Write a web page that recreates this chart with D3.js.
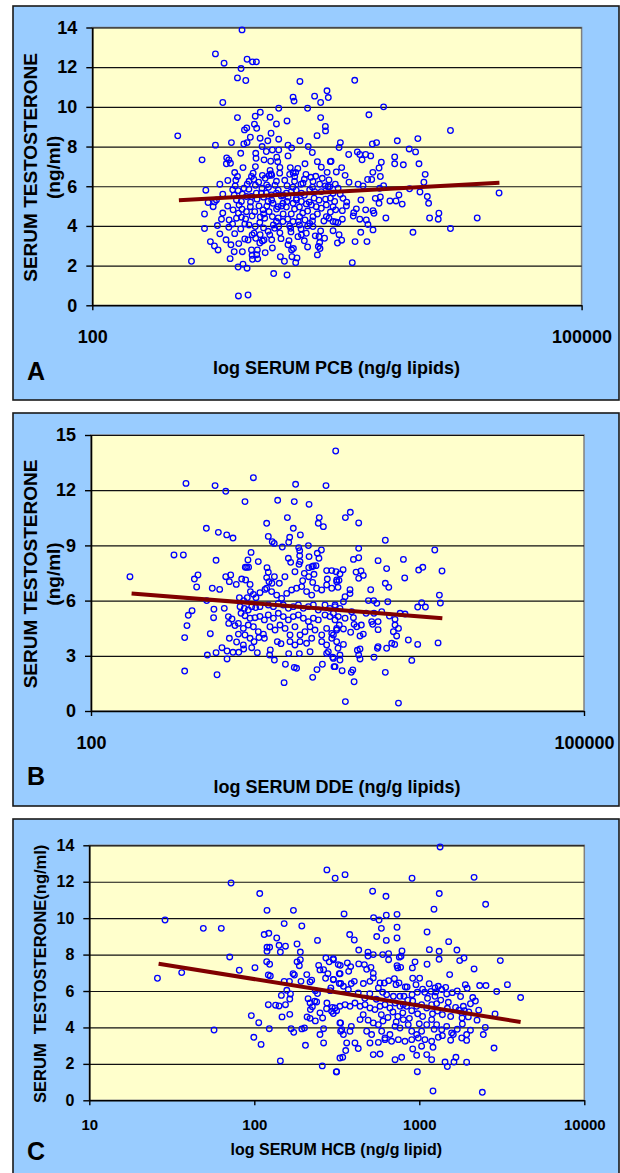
<!DOCTYPE html>
<html><head><meta charset="utf-8">
<script src="https://cdn.jsdelivr.net/npm/d3@7"></script>
<style>
body{margin:0;background:#fff}
svg{display:block}
text{font-family:"Liberation Sans",Arial,sans-serif;font-weight:bold;fill:#000}
</style>
</head><body>
<svg id="chart" width="620" height="1173"></svg>
<script>
// ---- DATA (x values are log10 of serum concentration, y = testosterone ng/ml) ----
const pcbPoints = [
[2.918,13.88],[2.755,12.67],[2.808,12.2],[2.949,12.4],[2.982,12.27],[3.006,12.27],[2.912,11.93],[2.89,11.46],[2.941,11.33],[3.273,11.28],[2.8,10.22],[3.231,10.49],[3.237,10.29],[3.363,10.54],[3.4,10.22],[3.439,10.81],[3.447,10.47],[3.32,9.93],[3.4,9.46],[3.429,9.01],[3.378,8.55],[3.43,8.79],[2.524,8.54],[2.89,9.46],[3.03,9.73],[2.999,9.53],[3.143,9.93],[3.09,9.48],[3.129,9.14],[3.194,9.29],[2.947,8.94],[2.933,8.84],[2.994,9.13],[3.008,8.92],[2.969,8.47],[3.096,8.67],[2.853,8.2],[2.755,8.07],[2.929,8.13],[2.949,8.2],[3.029,8.42],[3.076,8.29],[3.143,8.37],[3.273,8.29],[3.324,8.0],[3.349,7.7],[2.673,7.33],[2.824,7.43],[2.837,7.33],[2.847,7.16],[2.822,7.13],[2.91,7.66],[3.041,8.0],[3.104,7.83],[3.143,7.83],[3.2,8.07],[3.222,7.93],[3.002,7.66],[3.067,7.75],[3.004,7.41],[3.053,7.33],[3.131,7.46],[2.924,6.94],[3.0,6.99],[3.094,7.26],[3.137,7.24],[3.2,7.53],[3.304,7.13],[3.38,7.24],[3.459,7.24],[3.404,6.96],[3.214,6.94],[3.247,6.69],[3.232,6.66],[3.241,6.49],[3.149,6.66],[3.096,6.62],[3.043,6.55],[3.084,6.54],[2.986,6.66],[2.976,6.49],[2.873,6.69],[2.89,6.49],[2.831,6.29],[2.782,6.1],[2.961,6.25],[3.069,6.07],[3.129,6.25],[3.194,6.03],[3.292,6.15],[3.353,6.24],[3.394,6.1],[3.429,6.02],[3.451,6.32],[3.455,5.98],[2.876,6.02],[2.861,5.82],[2.894,5.78],[2.696,5.8],[2.71,5.18],[2.749,5.21],[2.761,5.31],[2.741,4.97],[2.688,4.6],[2.688,3.87],[2.724,3.21],[2.749,2.99],[2.771,2.79],[2.608,2.22],[2.845,2.35],[2.894,1.93],[2.924,2.07],[2.949,1.87],[2.982,2.32],[2.896,0.47],[2.955,0.52],[3.112,1.6],[3.194,1.53],[3.153,2.45],[3.178,2.22],[3.224,2.45],[3.255,2.39],[3.247,2.15],[3.38,2.54],[3.396,2.86],[3.32,2.94],[3.222,2.79],[3.233,2.86],[3.157,3.36],[3.206,3.26],[3.104,2.89],[3.043,3.24],[3.027,3.14],[3.012,2.79],[2.976,2.79],[2.98,2.52],[3.008,2.55],[3.014,2.34],[2.898,3.11],[2.873,3.61],[2.837,3.93],[2.792,4.34],[2.767,4.02],[2.782,3.6],[2.839,4.3],[2.935,3.34],[2.955,3.29],[2.992,3.63],[3.002,3.38],[3.029,3.56],[3.053,3.29],[3.078,3.73],[3.088,3.55],[3.118,3.88],[3.143,3.97],[3.216,3.88],[3.218,3.7],[3.261,3.46],[3.282,3.55],[3.353,3.97],[3.367,3.5],[3.39,3.46],[3.424,3.38],[3.312,3.63],[3.394,3.16],[3.386,2.96],[3.476,3.76],[3.476,4.22],[3.506,4.17],[3.435,4.47],[3.451,4.39],[3.353,4.47],[3.333,4.13],[3.304,4.3],[3.271,4.47],[3.263,4.22],[3.231,4.22],[3.198,4.34],[3.169,4.22],[3.129,4.22],[3.104,4.47],[3.084,4.72],[3.057,4.39],[3.027,4.17],[2.999,3.97],[2.961,4.05],[2.935,4.1],[2.914,4.44],[2.884,4.39],[2.863,4.81],[2.896,4.64],[2.918,4.84],[2.945,4.72],[2.969,4.97],[2.996,4.72],[3.022,5.01],[3.047,4.81],[3.078,5.23],[3.108,5.14],[3.139,4.97],[3.169,5.14],[3.194,5.23],[3.231,5.14],[3.251,5.31],[3.282,5.23],[3.312,5.11],[3.343,5.06],[3.373,4.97],[3.404,4.89],[3.435,5.06],[3.476,4.97],[3.492,4.81],[2.884,5.31],[2.914,5.23],[2.945,5.48],[2.976,5.48],[3.006,5.65],[3.037,5.65],[3.067,5.65],[3.098,5.56],[3.129,5.65],[3.159,5.51],[3.19,5.65],[3.22,5.73],[3.251,5.39],[3.282,5.65],[3.333,5.82],[3.363,5.73],[3.404,5.73],[3.445,5.98],[3.476,5.65],
[3.609,11.34],[3.786,10.0],[3.696,9.6],[4.196,8.81],[3.996,8.4],[3.87,8.29],[3.521,8.2],[3.513,7.95],[3.717,8.13],[3.743,8.2],[3.943,7.88],[3.982,7.73],[3.572,7.6],[3.625,7.73],[3.64,7.6],[3.676,7.6],[3.707,7.53],[3.654,7.33],[3.854,7.48],[3.854,7.13],[3.907,7.08],[4.003,7.13],[3.772,7.21],[3.758,6.92],[3.464,7.26],[3.529,6.94],[3.496,6.72],[3.55,6.55],[3.766,6.49],[4.041,6.6],[3.574,6.2],[3.688,6.34],[3.713,6.34],[4.033,6.2],[3.66,6.02],[3.507,5.9],[3.786,6.03],[3.945,5.87],[4.009,5.71],[3.762,5.9],[3.88,5.56],[4.054,5.48],[4.062,5.14],[4.494,5.66],[3.735,5.39],[3.766,5.46],[3.758,5.14],[3.825,5.26],[3.862,5.26],[3.647,5.31],[3.537,5.39],[3.486,5.23],[3.558,5.01],[3.533,4.77],[3.603,4.67],[3.619,4.86],[3.676,4.81],[3.721,4.77],[3.727,4.64],[3.64,4.34],[3.533,4.34],[3.492,4.2],[4.125,4.64],[4.121,4.34],[4.068,4.4],[4.36,4.4],[4.196,3.87],[3.69,4.07],[3.721,3.8],[3.646,3.68],[3.966,3.68],[3.513,3.56],[3.529,3.28],[3.503,3.14],[3.611,3.21],[3.684,3.21],[3.594,2.15],
[2.87,5.55],[2.9,5.05],[2.93,5.9],[2.95,6.1],[2.97,5.2],[2.99,6.35],[3.01,5.35],[3.02,6.2],[3.04,5.9],[3.05,4.6],[3.06,6.4],[3.07,5.0],[3.08,5.95],[3.09,6.8],[3.1,5.3],[3.11,4.05],[3.12,6.05],[3.13,4.85],[3.14,5.8],[3.15,6.95],[3.16,5.0],[3.17,4.6],[3.18,6.3],[3.19,4.95],[3.2,5.45],[3.21,6.6],[3.22,4.6],[3.23,5.95],[3.24,4.85],[3.25,5.8],[3.26,6.9],[3.27,4.95],[3.28,6.1],[3.29,4.65],[3.3,5.55],[3.31,6.6],[3.32,4.75],[3.33,5.2],[3.34,6.45],[3.35,4.25],[3.36,5.4],[3.37,6.5],[3.38,4.6],[3.39,5.3],[3.41,6.4],[3.42,4.25],[3.43,5.35],[3.44,6.7],[3.46,4.7],[2.92,5.6],[2.94,4.35],[2.96,5.85],[2.98,4.5],[3.0,6.05],[3.03,4.45],[3.05,5.45],[3.1,6.55],[3.14,4.4],[3.17,5.55],[3.21,4.0],[3.24,6.25],[3.27,4.05],[3.3,6.35],[3.32,4.0],[3.35,5.95],[3.28,3.85],[3.15,3.65],[3.05,3.9],[2.98,3.55],[2.91,3.85],[2.88,6.3],[2.86,4.1],[2.83,5.0],[2.8,5.6],[2.8,4.65],[2.82,3.3],[2.85,3.05],[2.87,2.7],[2.92,2.7],[3.06,2.65],[3.1,3.3],[3.2,3.05],[3.3,3.25],[3.4,3.75],[3.46,5.4],[3.49,6.1],[3.52,5.6],[3.56,5.2],[3.6,4.5],[3.63,6.1],[3.68,4.3],[3.72,6.7],[3.8,4.4],[3.9,5.1]
];
const ddePoints = [
[2.237,7.3],[2.578,12.37],[2.755,12.25],[2.82,11.94],[2.988,12.68],[2.937,11.38],[3.136,11.45],[3.237,11.38],[3.245,12.32],[3.43,12.25],[3.489,14.13],[3.327,11.23],[3.195,10.51],[3.389,10.51],[3.383,10.2],[3.414,10.02],[3.069,10.2],[3.231,9.93],[2.702,9.93],[2.775,9.71],[2.826,9.57],[2.864,9.4],[3.079,9.49],[3.209,9.44],[3.274,9.57],[3.103,9.2],[3.115,9.11],[3.164,8.91],[3.203,9.17],[3.264,8.88],[3.27,8.71],[3.27,8.44],[3.272,8.12],[3.266,7.97],[3.323,8.99],[3.377,8.57],[3.387,8.3],[3.402,8.75],[3.327,8.39],[2.505,8.48],[2.562,8.48],[2.761,8.19],[2.974,8.62],[2.955,8.21],[2.947,7.81],[2.939,7.81],[2.959,7.81],[3.018,8.12],[3.201,8.3],[3.215,8.08],[3.241,7.57],[3.325,7.79],[3.345,7.84],[3.353,7.88],[3.369,7.9],[3.298,7.48],[3.288,7.08],[3.325,7.3],[3.357,7.43],[3.349,6.99],[2.651,7.39],[2.629,7.17],[2.643,6.74],[2.82,7.3],[2.85,7.39],[2.842,7.03],[2.884,6.88],[2.917,7.17],[2.941,7.12],[2.968,6.88],[3.071,7.79],[3.079,7.54],[3.069,7.25],[3.083,7.03],[3.116,7.3],[3.146,6.94],[3.101,6.94],[3.18,7.3],[2.738,6.67],[2.783,6.61],[2.704,6.0],[2.748,5.53],[2.746,5.07],[2.615,5.45],[2.592,5.2],[2.584,4.64],[2.57,3.99],[2.57,2.17],[2.726,4.2],[2.708,3.04],[2.761,3.17],[2.767,1.97],[2.811,5.58],[2.836,5.13],[2.838,4.76],[2.858,5.0],[2.876,4.64],[2.797,3.44],[2.828,3.26],[2.828,2.83],[2.864,3.19],[2.899,3.19],[2.929,3.37],[2.886,3.75],[2.842,3.95],[2.903,6.16],[2.929,6.0],[2.951,6.16],[2.97,6.49],[2.988,6.34],[3.004,6.16],[3.028,6.43],[3.059,6.61],[2.907,5.67],[2.933,5.58],[2.957,5.49],[2.978,5.67],[3.002,5.62],[3.028,5.67],[2.913,5.31],[2.937,5.18],[2.968,5.04],[2.998,5.07],[3.028,5.14],[3.055,4.95],[2.897,4.76],[2.927,4.49],[2.957,4.67],[2.988,4.58],[3.018,4.31],[3.049,4.17],[2.897,4.18],[2.937,4.13],[2.968,3.95],[2.992,3.77],[3.022,3.99],[3.055,3.95],[2.927,3.59],[2.978,3.44],[3.012,3.17],[3.087,3.04],[3.116,2.77],[3.091,3.32],[3.183,2.54],[3.175,1.54],[3.237,2.37],[3.251,2.32],[3.349,1.83],[3.375,2.25],[3.408,2.54],[3.333,3.22],[3.268,3.12],[3.203,3.12],[3.156,3.66],[3.134,3.77],[3.069,6.67],[3.099,6.49],[3.13,6.3],[3.16,6.12],[3.191,6.39],[3.221,6.58],[3.251,6.67],[3.282,6.76],[3.312,6.49],[3.343,6.3],[3.373,6.67],[3.404,6.58],[3.434,6.85],[3.465,6.67],[3.495,7.03],[3.434,7.63],[3.465,7.63],[3.491,7.57],[3.438,7.17],[3.495,7.12],[3.079,5.76],[3.11,5.67],[3.14,5.85],[3.17,5.76],[3.201,5.58],[3.231,5.67],[3.262,5.76],[3.292,5.58],[3.323,5.67],[3.353,5.76],[3.383,5.49],[3.424,5.76],[3.454,5.58],[3.485,5.67],[3.079,5.22],[3.11,5.04],[3.14,5.31],[3.17,5.13],[3.201,4.95],[3.231,5.13],[3.262,5.22],[3.292,5.04],[3.323,4.86],[3.353,5.04],[3.383,4.95],[3.424,5.22],[3.454,5.13],[3.485,4.95],[3.089,4.58],[3.12,4.4],[3.15,4.67],[3.181,4.49],[3.211,4.13],[3.241,4.58],[3.272,4.13],[3.302,4.31],[3.333,4.58],[3.363,4.4],[3.404,4.13],[3.434,4.49],[3.465,4.22],[3.495,4.4],[3.211,3.77],[3.241,3.59],[3.272,3.77],[3.312,3.68],[3.343,3.95],[3.404,3.77],[3.434,3.59],[3.465,3.95],[3.495,3.77],[3.444,3.22],[3.475,2.86],[3.485,2.41],[3.434,3.13],
[3.548,10.51],[3.578,10.8],[3.629,10.22],[3.791,9.28],[4.092,8.75],[3.629,8.84],[3.597,8.24],[3.629,8.33],[3.747,8.17],[3.901,8.24],[3.994,7.66],[4.019,7.81],[4.136,7.61],[3.799,7.74],[3.909,7.23],[3.613,7.55],[3.643,7.61],[3.657,7.37],[3.629,7.21],[3.534,7.68],[3.515,7.45],[3.509,7.1],[3.503,6.72],[3.791,6.94],[3.812,6.72],[3.702,6.59],[3.576,6.59],[3.576,6.38],[3.546,6.21],[4.12,6.3],[4.126,5.87],[3.806,5.94],[3.688,6.0],[3.72,6.0],[3.739,5.85],[4.012,5.89],[3.988,5.65],[4.035,5.65],[3.881,5.31],[3.911,5.27],[3.769,5.4],[3.816,5.16],[3.674,5.31],[3.722,5.31],[3.586,5.4],[3.597,5.07],[3.536,5.94],[3.515,5.58],[3.485,5.76],[3.546,5.04],[3.505,5.13],[3.475,5.31],[3.85,4.98],[3.85,4.67],[3.871,4.49],[3.86,4.08],[3.84,4.31],[3.747,4.86],[3.747,4.42],[3.714,4.71],[3.708,4.86],[3.645,4.67],[3.657,4.18],[3.637,4.08],[3.617,4.58],[3.58,4.28],[3.601,4.71],[3.536,4.46],[3.495,4.49],[3.475,4.13],[3.511,4.67],[3.931,3.86],[3.988,3.62],[4.112,3.7],[3.83,3.68],[3.848,3.62],[3.799,3.41],[3.747,3.5],[3.743,3.41],[3.722,2.92],[3.621,3.3],[3.629,3.04],[3.637,2.83],[3.637,3.37],[3.536,3.62],[3.503,3.41],[3.515,3.04],[3.515,2.77],[3.471,2.92],[3.479,2.41],[3.528,2.19],[3.584,2.1],[3.593,2.23],[3.601,1.59],[3.791,2.1],[3.952,2.75],[3.548,0.51],[3.871,0.43]
];
const hcbPoints = [
[1.413,6.7],[1.459,9.9],[1.56,7.01],[1.691,9.44],[1.8,9.44],[1.756,3.86],[1.851,7.87],[1.859,11.93],[1.909,7.14],[1.982,4.65],[1.997,3.46],[2.041,3.07],[2.027,4.26],[2.004,7.28],[2.033,11.35],[2.077,10.43],[2.237,10.43],[2.06,9.1],[2.088,9.17],[2.181,9.7],[2.288,9.57],[2.136,8.91],[2.15,8.51],[2.189,8.46],[2.158,8.14],[2.077,8.4],[2.093,8.4],[2.077,8.18],[2.259,8.58],[2.279,8.14],[2.383,8.78],[2.075,7.61],[2.093,7.47],[2.085,6.88],[2.097,6.83],[2.259,7.6],[2.279,7.72],[2.273,7.39],[2.235,6.95],[2.243,6.88],[2.181,6.53],[2.213,6.53],[2.197,6.04],[2.164,5.76],[2.219,5.84],[2.215,5.56],[2.085,5.25],[2.129,5.22],[2.15,5.18],[2.189,5.25],[2.168,4.58],[2.215,4.72],[2.091,3.93],[2.223,3.93],[2.239,3.73],[2.288,3.92],[2.304,3.97],[2.31,3.02],[2.158,2.16],[2.318,6.9],[2.338,6.5],[2.348,6.59],[2.283,6.53],[2.383,5.86],[2.37,6.02],[2.326,5.58],[2.338,5.34],[2.366,5.44],[2.378,5.4],[2.352,5.14],[2.34,4.98],[2.32,4.58],[2.338,4.5],[2.37,4.36],[2.398,4.8],[2.414,4.52],[2.42,3.93],[2.398,3.61],[2.42,3.15],[2.412,1.89],[2.497,1.56],[2.44,12.65],[2.49,12.19],[2.434,7.81],[2.454,7.6],[2.479,7.78],[2.39,7.41],[2.398,7.16],[2.42,7.17],[2.446,6.95],[2.432,6.7],[2.479,6.64],[2.464,6.17],[2.46,6.02],[2.44,5.34],[2.438,5.03],[2.473,5.1],[2.499,4.92],[2.479,4.76],[2.509,7.45],[2.515,6.95],[2.515,6.41],[2.523,4.25],[2.523,3.79],[2.519,2.32],
[3.126,13.91],[2.956,12.19],[3.332,12.24],[2.55,12.39],[2.717,11.48],[2.798,11.2],[3.121,11.35],[3.402,10.76],[3.089,10.49],[2.544,10.23],[2.723,10.03],[2.756,9.9],[2.8,10.16],[2.865,10.21],[2.77,9.44],[2.865,9.5],[2.865,8.91],[2.742,8.99],[2.8,8.78],[3.047,9.24],[2.578,9.1],[2.606,8.8],[3.178,8.71],[3.228,8.25],[3.061,8.27],[3.12,8.18],[2.633,8.25],[2.689,8.13],[2.689,7.92],[2.721,8.0],[2.778,8.0],[2.814,8.05],[2.814,7.72],[2.895,8.2],[2.889,7.91],[2.879,7.86],[3.271,7.81],[3.245,7.67],[3.12,7.74],[3.047,7.47],[2.974,7.6],[2.958,7.27],[3.491,7.67],[3.332,7.21],[3.184,6.9],[2.865,7.39],[2.887,7.3],[2.869,7.27],[2.479,7.72],[2.521,7.41],[2.564,7.54],[2.584,7.34],[2.633,7.49],[2.667,7.45],[2.707,7.3],[2.681,7.19],[2.721,6.97],[2.572,7.08],[2.52,6.95],[2.479,6.62],[2.606,6.53],[2.588,6.41],[2.54,6.26],[2.524,6.41],[2.57,6.08],[2.661,6.41],[2.701,6.53],[2.721,6.72],[2.762,6.44],[2.788,6.44],[2.814,6.57],[2.859,6.35],[2.877,6.44],[2.849,6.68],[2.915,6.22],[2.926,6.22],[2.96,6.7],[3.002,6.7],[3.366,6.3],[3.404,6.3],[3.534,6.35],[3.279,6.35],[3.469,5.97],[3.614,5.64],[3.324,5.64],[3.115,6.26],[3.095,6.17],[3.071,5.98],[3.136,6.08],[3.166,5.84],[3.2,5.91],[3.033,5.93],[2.988,5.93],[2.956,5.8],[2.752,6.17],[2.778,5.93],[2.802,5.8],[2.843,5.71],[2.883,5.71],[2.907,5.71],[3.176,5.38],[3.267,5.16],[3.273,4.92],[3.257,4.8],[3.297,4.58],[3.259,4.52],[3.261,4.19],[3.459,4.74],[3.095,5.71],[3.105,5.31],[3.075,5.25],[3.045,5.07],[3.014,5.25],[2.984,5.16],[2.954,4.92],[2.923,5.16],[2.903,5.25],[2.883,5.16],[2.853,5.34],[2.822,5.07],[2.792,5.25],[2.762,5.16],[2.731,4.98],[2.701,5.07],[2.671,5.25],[2.641,5.16],[2.61,5.34],[2.58,5.16],[2.55,5.25],[2.519,5.16],[2.489,5.07],[2.469,4.89],[2.519,4.25],[2.53,3.88],[2.54,3.61],[2.56,3.15],[2.58,3.79],[2.588,4.06],[2.61,3.15],[2.63,2.84],[2.554,2.73],[2.536,2.36],[2.641,4.43],[2.681,3.79],[2.711,3.61],[2.721,4.25],[2.752,4.15],[2.772,3.79],[2.792,3.42],[2.822,3.61],[2.853,4.06],[2.883,3.97],[2.903,4.43],[2.933,4.15],[2.954,3.79],[2.984,3.61],[3.014,3.79],[3.045,4.15],[3.075,4.43],[3.105,4.15],[3.136,3.88],[3.166,4.06],[3.196,3.7],[3.206,3.61],[3.257,3.42],[3.287,3.29],[3.287,3.61],[3.388,3.61],[3.453,2.87],[2.701,3.15],[2.752,3.18],[2.792,3.33],[2.832,3.24],[2.873,3.33],[2.913,3.24],[2.954,3.33],[2.994,3.42],[3.034,3.33],[3.075,3.24],[3.115,3.46],[2.721,2.51],[2.762,2.54],[2.853,2.23],[2.893,2.36],[2.96,2.82],[2.984,2.47],[3.014,2.97],[3.045,2.51],[3.075,2.23],[3.083,2.91],[3.156,2.1],[3.17,1.85],[3.21,2.1],[3.222,2.36],[3.287,2.09],[3.382,0.44],[3.083,0.51],[2.988,1.57],[2.499,1.57],
[2.63,5.9],[2.67,5.6],[2.7,5.85],[2.74,5.55],[2.77,4.7],[2.81,4.55],[2.84,4.85],[2.87,4.6],[2.9,4.8],[2.93,5.5],[2.96,5.45],[2.99,4.75],[3.02,4.6],[3.05,5.6],[3.08,4.75],[3.11,4.9],[3.14,4.7],[3.17,5.05],[3.19,4.6],[3.22,5.1],[3.24,4.95],[2.98,6.35],[3.02,6.1],[3.06,6.4],[3.1,5.95],[3.13,5.5],[3.16,6.2],[3.23,6.0],[3.25,5.7],[3.29,6.15],[3.31,5.3],[3.34,5.45],[3.36,4.95],[3.3,4.85],[2.66,4.7],[2.69,4.4],[2.78,4.35],[2.86,4.3],[2.94,4.5],[3.0,4.2],[3.09,3.9],[3.14,3.55],[3.19,3.3],[3.23,3.9],[3.35,4.4],[3.4,4.0],[3.31,3.85]
];
const pcbTrend = [[2.531,5.29],[4.496,6.18]];
const ddeTrend = [[2.247,6.39],[4.138,5.04]];
const hcbTrend = [[1.42,7.5],[3.614,4.3]];
const yTicksA = [0,2,4,6,8,10,12,14];
const yTicksB = [0,3,6,9,12,15];
const yTicksC = [0,2,4,6,8,10,12,14];
const xTicksA = [100,100000];
const xTicksB = [100,100000];
const xTicksC = [10,100,1000,10000];

// ---- LAYOUT ----
const svg = d3.select("#chart");
svg.append("rect").attr("width",620).attr("height",1173).attr("fill","#fff");

const panels = [
  {top:6, h:394, pts:pcbPoints, trend:pcbTrend, xDom:[100,100000], xTicks:xTicksA, yMax:14, yTicks:yTicksA,
   px:[92.3,581.6], py:[27.5,305.3], yFont:18, xFont:18, xPad:20, letter:"A", letterY:380,
   xTitle:"log SERUM PCB (ng/g lipids)", xTitleY:374, xTitleFont:18, yTitle:["SERUM TESTOSTERONE","(ng/ml)"], yTitleX:[30,53.5], yTitleFont:19},
  {top:413, h:393, pts:ddePoints, trend:ddeTrend, xDom:[100,100000], xTicks:xTicksB, yMax:15, yTicks:yTicksB,
   px:[91,584], py:[435,711], yFont:18, xFont:18, xPad:20, letter:"B", letterY:785,
   xTitle:"log SERUM DDE (ng/g lipids)", xTitleY:793, xTitleFont:18, yTitle:["SERUM TESTOSTERONE","(ng/ml)"], yTitleX:[30,53.5], yTitleFont:19},
  {top:819, h:393, pts:hcbPoints, trend:hcbTrend, xDom:[10,10000], xTicks:xTicksC, yMax:14, yTicks:yTicksC,
   px:[89.3,584.3], py:[845.3,1100.3], yFont:16, xFont:15, xPad:14, letter:"C", letterY:1160,
   xTitle:"log SERUM HCB (ng/g lipid)", xTitleY:1155, xTitleFont:16, yTitle:["SERUM\u00a0\u00a0TESTOSTERONE(ng/ml)"], yTitleX:[39.6], yTitleFont:16.5}
];

panels.forEach(p => {
  const g = svg.append("g");
  g.append("rect").attr("x",13).attr("y",p.top).attr("width",606).attr("height",p.h)
    .attr("fill","#99CCFF").attr("stroke","#1a1a1a").attr("stroke-width",1.6);

  const x = d3.scaleLog().domain(p.xDom).range(p.px);
  const y = d3.scaleLinear().domain([0,p.yMax]).range([p.py[1],p.py[0]]);
  const w = p.px[1]-p.px[0], h = p.py[1]-p.py[0];

  g.append("rect").attr("x",p.px[0]).attr("y",p.py[0]).attr("width",w).attr("height",h)
    .attr("fill","#FFFFCC").attr("stroke","#808080").attr("stroke-width",1.5);

  // gridlines
  g.append("g").attr("transform",`translate(${p.px[0]},0)`)
    .call(d3.axisLeft(y).tickValues(p.yTicks.filter(v=>v>0)).tickSize(-w).tickFormat(""))
    .call(a=>{a.select(".domain").remove(); a.selectAll("line").attr("stroke","#111").attr("stroke-width",1.2);});

  // y axis
  g.append("g").attr("transform",`translate(${p.px[0]},0)`)
    .call(d3.axisLeft(y).tickValues(p.yTicks).tickSize(6).tickPadding(9).tickSizeOuter(0))
    .call(a=>{a.select(".domain").attr("stroke","#000").attr("stroke-width",1.6);
      a.selectAll("line").attr("stroke","#000").attr("stroke-width",1.4);
      a.selectAll("text").attr("font-size",p.yFont).attr("font-family","Liberation Sans, Arial, sans-serif").attr("font-weight","bold").attr("fill","#000");});

  // x axis
  g.append("g").attr("transform",`translate(0,${p.py[1]})`)
    .call(d3.axisBottom(x).tickValues(p.xTicks).tickFormat(d3.format("d")).tickSize(5).tickPadding(p.xPad).tickSizeOuter(0))
    .call(a=>{a.select(".domain").attr("stroke","#000").attr("stroke-width",1.6);
      a.selectAll("line").attr("stroke","#000").attr("stroke-width",1.4);
      a.selectAll("text").attr("font-size",p.xFont).attr("font-family","Liberation Sans, Arial, sans-serif").attr("font-weight","bold").attr("fill","#000");});

  // points
  g.append("g").selectAll("circle").data(p.pts).join("circle")
    .attr("cx",d=>x(Math.pow(10,d[0]))).attr("cy",d=>y(d[1])).attr("r",2.8)
    .attr("fill","none").attr("stroke","#0000FF").attr("stroke-width",1.3);

  // trend line
  g.append("path").datum(p.trend)
    .attr("d",d3.line().x(d=>x(Math.pow(10,d[0]))).y(d=>y(d[1])))
    .attr("fill","none").attr("stroke","#800000").attr("stroke-width",4);

  // titles
  g.append("text").attr("x",(p.px[0]+p.px[1])/2 - 0.5).attr("y",p.xTitleY).attr("text-anchor","middle")
    .attr("font-size",p.xTitleFont).text(p.xTitle);
  g.append("text").attr("x",27).attr("y",p.letterY).attr("font-size",25).text(p.letter);
  const cy = (p.py[0]+p.py[1])/2;
  p.yTitle.forEach((t,i)=>{
    g.append("text").attr("transform",`translate(${p.yTitleX[i]},${cy+1}) rotate(-90)`)
      .attr("text-anchor","middle").attr("dominant-baseline","central")
      .attr("font-size",p.yTitleFont).text(t);
  });
});
</script>
</body></html>
